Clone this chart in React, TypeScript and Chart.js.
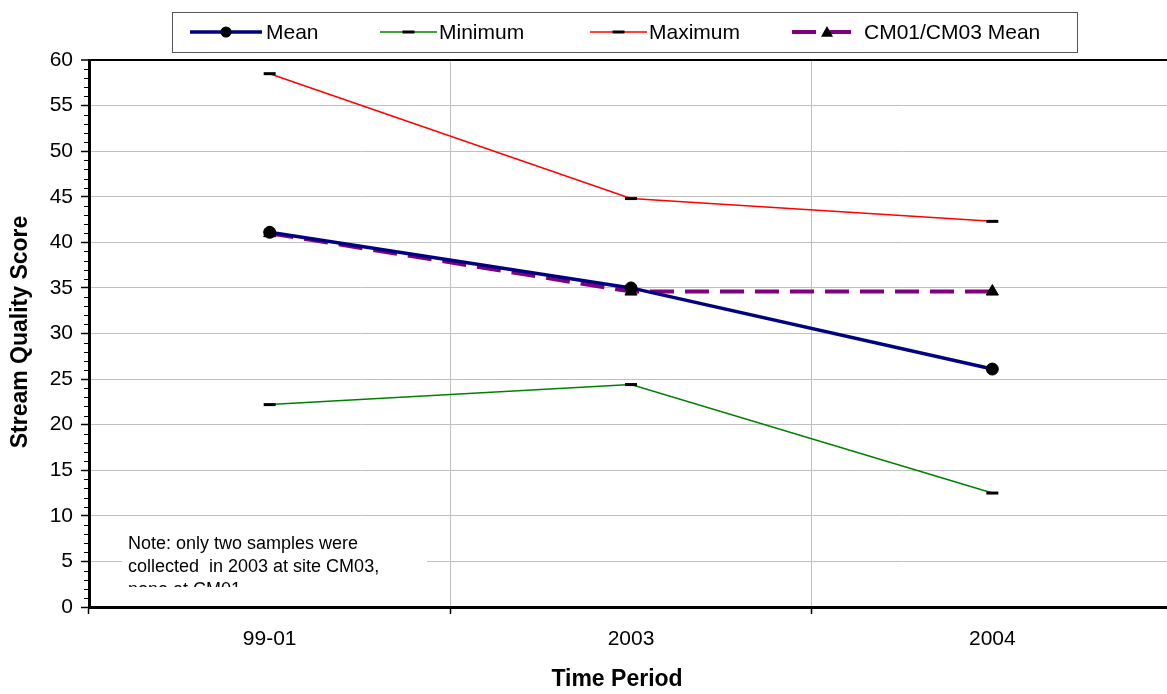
import React, { useEffect, useRef } from "react";
import { Chart, registerables } from "chart.js";

Chart.register(...registerables);

const categories = ["99-01", "2003", "2004"];
const meanValues = [41.1, 35.0, 26.1];
const minimumValues = [22.2, 24.4, 12.5];
const maximumValues = [58.5, 44.8, 42.3];
const cmMeanValues = [41.0, 34.6, 34.6];
const seriesNames = ["Mean", "Minimum", "Maximum", "CM01/CM03 Mean"];
const yMin = 0;
const yMax = 60;
const yStep = 5;
const xTitle = "Time Period";
const yTitle = "Stream Quality Score";
const noteLines = [
  "Note: only two samples were",
  "collected  in 2003 at site CM03,",
  "none at CM01",
];

const FONT = "'Liberation Sans', Arial, Helvetica, sans-serif";

type Marker = "circle" | "dash" | "triangle";
const markers: Marker[] = ["circle", "dash", "dash", "triangle"];

function drawMarker(ctx: CanvasRenderingContext2D, kind: Marker, x: number, y: number, r: number) {
  ctx.save();
  ctx.fillStyle = "#000";
  ctx.strokeStyle = "#000";
  if (kind === "circle") {
    ctx.beginPath();
    ctx.arc(x, y, r, 0, Math.PI * 2);
    ctx.fill();
  } else if (kind === "dash") {
    ctx.fillRect(x - r, y - 1.5, r * 2, 3);
  } else {
    ctx.beginPath();
    ctx.moveTo(x, y - r);
    ctx.lineTo(x + r, y + r * 0.8);
    ctx.lineTo(x - r, y + r * 0.8);
    ctx.closePath();
    ctx.fill();
  }
  ctx.restore();
}

const overlayPlugin = {
  id: "overlay",
  afterDraw(chart: any) {
    const ctx: CanvasRenderingContext2D = chart.ctx;
    const ys = chart.scales.y;
    const area = chart.chartArea;
    ctx.save();

    // minor ticks on y axis
    ctx.strokeStyle = "#000";
    ctx.lineWidth = 1;
    for (let v = yMin; v <= yMax; v++) {
      if (v % yStep === 0) continue;
      const py = Math.round(ys.getPixelForValue(v)) + 0.5;
      ctx.beginPath();
      ctx.moveTo(area.left - 5, py);
      ctx.lineTo(area.left, py);
      ctx.stroke();
    }

    // note box
    const bx = 122, by = 524, bw = 305, bh = 63;
    ctx.fillStyle = "#fff";
    ctx.fillRect(bx, by, bw, bh);
    ctx.save();
    ctx.beginPath();
    ctx.rect(bx, by, bw, bh);
    ctx.clip();
    ctx.fillStyle = "#000";
    ctx.font = `18px ${FONT}`;
    ctx.textAlign = "left";
    ctx.textBaseline = "alphabetic";
    noteLines.forEach((line, i) => {
      ctx.fillText(line, 128, 549 + i * 23);
    });
    ctx.restore();

    // legend
    const lx = 172, ly = 12, lw = 905, lh = 40;
    ctx.fillStyle = "#fff";
    ctx.fillRect(lx, ly, lw, lh);
    ctx.strokeStyle = "#555";
    ctx.lineWidth = 1;
    ctx.strokeRect(lx + 0.5, ly + 0.5, lw, lh);
    const items = [
      { x0: 190, x1: 262, tx: 266 },
      { x0: 380, x1: 437, tx: 439 },
      { x0: 590, x1: 647, tx: 649 },
      { x0: 792, x1: 862, tx: 864 },
    ];
    const cy = 32;
    chart.data.datasets.forEach((ds: any, i: number) => {
      const it = items[i];
      ctx.save();
      ctx.strokeStyle = ds.borderColor;
      ctx.lineWidth = ds.borderWidth;
      if (ds.borderDash) ctx.setLineDash(ds.borderDash);
      ctx.beginPath();
      ctx.moveTo(it.x0, cy);
      ctx.lineTo(it.x1, cy);
      ctx.stroke();
      ctx.restore();
      drawMarker(ctx, markers[i], (it.x0 + it.x1) / 2, cy, markers[i] === "circle" ? 5.5 : 6);
      ctx.fillStyle = "#000";
      ctx.font = `21px ${FONT}`;
      ctx.textAlign = "left";
      ctx.textBaseline = "middle";
      ctx.fillText(ds.label, it.tx, cy + 1);
    });

    // axis titles
    ctx.fillStyle = "#000";
    ctx.font = `bold 23px ${FONT}`;
    ctx.textAlign = "center";
    ctx.textBaseline = "middle";
    ctx.fillText(xTitle, 617, 680);
    ctx.save();
    ctx.translate(21, 332);
    ctx.rotate(-Math.PI / 2);
    ctx.fillText(yTitle, 0, 0);
    ctx.restore();

    ctx.restore();
  },
};

export default function App() {
  const ref = useRef<HTMLCanvasElement | null>(null);

  useEffect(() => {
    if (!ref.current) return;
    const chart = new Chart(ref.current, {
      type: "line",
      data: {
        labels: categories,
        datasets: [
          {
            label: seriesNames[0],
            data: meanValues,
            borderColor: "#000080",
            backgroundColor: "#000",
            borderWidth: 3.5,
            pointStyle: "circle",
            pointRadius: 6,
            pointBackgroundColor: "#000",
            pointBorderColor: "#000",
            pointBorderWidth: 1,
          },
          {
            label: seriesNames[1],
            data: minimumValues,
            borderColor: "#008000",
            backgroundColor: "#000",
            borderWidth: 1.5,
            pointStyle: "line",
            pointRadius: 6,
            pointBorderColor: "#000",
            pointBorderWidth: 3,
          },
          {
            label: seriesNames[2],
            data: maximumValues,
            borderColor: "#ff0000",
            backgroundColor: "#000",
            borderWidth: 1.5,
            pointStyle: "line",
            pointRadius: 6,
            pointBorderColor: "#000",
            pointBorderWidth: 3,
          },
          {
            label: seriesNames[3],
            data: cmMeanValues,
            borderColor: "#800080",
            backgroundColor: "#000",
            borderWidth: 4,
            borderDash: [24, 11],
            pointStyle: "triangle",
            pointRadius: 7,
            pointBackgroundColor: "#000",
            pointBorderColor: "#000",
            pointBorderWidth: 1,
          },
        ],
      },
      options: {
        responsive: false,
        animation: false,
        devicePixelRatio: 1,
        layout: { padding: { left: 0, top: 60, right: 8.5, bottom: 0 } },
        elements: { line: { tension: 0 } },
        plugins: {
          legend: { display: false },
          tooltip: { enabled: false },
          title: { display: false },
        },
        scales: {
          x: {
            type: "category",
            offset: true,
            grid: {
              offset: true,
              color: "#c0c0c0",
              lineWidth: 1,
              tickColor: "#000",
              tickLength: 7,
              tickWidth: 1.5,
            },
            border: { color: "#000", width: 3 },
            ticks: {
              color: "#000",
              font: { family: FONT, size: 21 },
              padding: 13,
              maxRotation: 0,
            },
            afterFit: (scale: any) => {
              scale.height = 87;
            },
          },
          y: {
            min: yMin,
            max: yMax,
            grid: {
              color: (c: any) => (c.tick && c.tick.value === yMax ? "#000" : "#c0c0c0"),
              lineWidth: (c: any) => (c.tick && c.tick.value === yMax ? 2 : 1),
              tickColor: "#000",
              tickLength: 8,
              tickWidth: 1.5,
            },
            border: { color: "#000", width: 3 },
            ticks: {
              stepSize: yStep,
              color: "#000",
              font: { family: FONT, size: 21 },
              padding: 8,
            },
            afterFit: (scale: any) => {
              scale.width = 89;
            },
          },
        },
      },
      plugins: [overlayPlugin],
    });
    return () => chart.destroy();
  }, []);

  return (
    <div
      style={{
        position: "fixed",
        left: 0,
        top: 0,
        width: 1167,
        height: 694,
        overflow: "hidden",
        background: "#fff",
      }}
    >
      <canvas ref={ref} width={1182} height={694} style={{ width: 1182, height: 694, display: "block" }} />
    </div>
  );
}
